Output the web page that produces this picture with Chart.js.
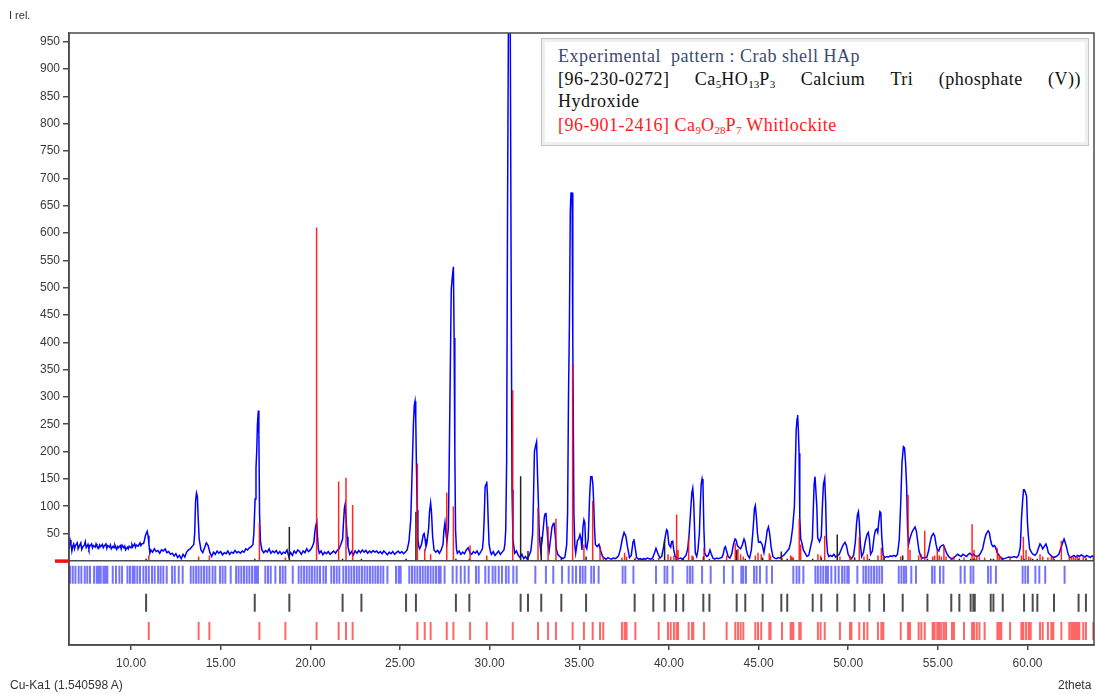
<!DOCTYPE html>
<html>
<head>
<meta charset="utf-8">
<script src="https://cdn.jsdelivr.net/npm/chart.js@4.4.1/dist/chart.umd.min.js"></script>
<style>
  body { margin: 0; background: #fff; }
  #marco { position: relative; width: 1095px; height: 694px; }
  canvas { position: absolute; left: 0; top: 0; }
  .txt { position: absolute; font-family: "Liberation Sans", Arial, sans-serif; font-size: 12px; color: #333; white-space: nowrap; }
  #leyenda {
    position: absolute; left: 541px; top: 38px; width: 538px; height: 106px;
    border: 1px solid #c4c4c4; outline: 3px solid #efefef; outline-offset: -4px;
    background: #fff; font-family: "Liberation Serif", "Times New Roman", serif; font-size: 18px;
    letter-spacing: 0.5px; padding: 0 8px 0 0; box-sizing: content-box;
  }
  #leyenda div { position: absolute; left: 16px; right: 7px; line-height: 22px; white-space: nowrap; }
  #leyenda sub { font-size: 11px; vertical-align: -3px; line-height: 0; letter-spacing: 0; }
  .just { display: flex; justify-content: space-between; }
</style>
</head>
<body>
<div id="marco">
  <canvas id="grafico" width="1095" height="694"></canvas>
  <div class="txt" style="left:9px;top:9px;font-size:11px;">I rel.</div>
  <div class="txt" style="left:10px;top:678px;">Cu-Ka1 (1.540598 A)</div>
  <div class="txt" style="left:1058px;top:678px;">2theta</div>
  <div id="leyenda">
    <div style="top:6px;color:#3b4b6e;">Experimental&nbsp; pattern : Crab shell HAp</div>
    <div class="just" style="top:29px;color:#111;">
      <span>[96-230-0272]</span><span>Ca<sub>5</sub>HO<sub>13</sub>P<sub>3</sub></span><span>Calcium</span><span>Tri</span><span>(phosphate</span><span>(V))</span>
    </div>
    <div style="top:51px;color:#111;">Hydroxide</div>
    <div style="top:75px;color:#ff1a1a;">[96-901-2416] Ca<sub>9</sub>O<sub>28</sub>P<sub>7</sub> Whitlockite</div>
  </div>
</div>
<script>
// Patrón experimental (2theta, intensidad relativa)
const patronExp = [
  [6.54,22],[6.6,38],[6.65,30],[6.7,18],[6.75,27],[6.8,31],[6.85,22],[6.9,28],[7.0,33],[7.05,22],[7.1,26],[7.2,33],[7.25,21],[7.3,25],
  [7.4,29],[7.45,35],[7.5,24],[7.6,30],[7.65,22],[7.7,27],[7.8,31],[7.85,24],[7.9,28],[8.0,25],[8.05,31],[8.1,27],[8.2,23],[8.25,29],
  [8.3,26],[8.4,30],[8.45,24],[8.5,27],[8.6,31],[8.65,23],[8.7,28],[8.8,25],[8.85,29],[8.9,22],[9.0,27],[9.05,24],[9.1,29],[9.2,21],
  [9.25,26],[9.3,24],[9.4,28],[9.45,22],[9.5,29],[9.6,24],[9.65,27],[9.7,20],[9.8,25],[9.85,22],[9.9,27],[10.0,24],[10.05,30],[10.1,26],
  [10.2,31],[10.25,25],[10.3,29],[10.4,27],[10.5,33],[10.55,28],[10.6,31],[10.7,32],[10.75,38],[10.8,46],[10.85,50],[10.9,54],[10.95,46],
  [11.0,30],[11.05,14],[11.1,20],[11.2,16],[11.3,22],[11.4,17],[11.5,19],[11.6,14],[11.7,20],[11.8,18],[11.9,22],[12.0,15],[12.1,17],
  [12.2,12],[12.3,14],[12.4,9],[12.5,13],[12.6,6],[12.7,10],[12.8,4],[12.9,12],[13.0,7],[13.1,16],[13.2,20],[13.3,22],[13.4,26],
  [13.5,30],[13.55,50],[13.6,109],[13.65,124],[13.7,118],[13.74,83],[13.8,40],[13.9,20],[14.0,15],[14.1,24],[14.2,33],[14.3,28],
  [14.4,15],[14.5,8],[14.6,16],[14.7,12],[14.8,18],[14.9,14],[15.0,17],[15.1,11],[15.2,15],[15.3,13],[15.4,18],[15.5,12],[15.6,16],
  [15.7,14],[15.8,19],[15.9,15],[16.0,17],[16.1,14],[16.2,18],[16.3,16],[16.4,22],[16.5,20],[16.6,24],[16.7,26],[16.8,30],[16.85,50],
  [16.92,113],[16.97,170],[17.01,200],[17.05,250],[17.1,275],[17.13,231],[17.17,83],[17.22,35],[17.3,20],[17.4,15],[17.5,19],[17.6,16],
  [17.7,22],[17.8,14],[17.9,18],[18.0,15],[18.1,19],[18.2,13],[18.3,17],[18.4,12],[18.5,16],[18.6,14],[18.7,20],[18.8,8],[18.9,15],
  [19.0,10],[19.1,18],[19.2,14],[19.3,20],[19.4,17],[19.5,12],[19.6,18],[19.7,15],[19.8,22],[19.9,17],[20.0,20],[20.1,25],[20.2,34],
  [20.25,52],[20.3,64],[20.36,71],[20.4,45],[20.45,22],[20.5,14],[20.6,18],[20.7,11],[20.8,16],[20.9,13],[21.0,17],[21.1,12],[21.2,15],
  [21.3,18],[21.4,14],[21.5,19],[21.6,22],[21.7,30],[21.8,40],[21.85,70],[21.9,96],[21.94,103],[22.0,75],[22.05,44],[22.1,26],[22.2,12],
  [22.3,17],[22.4,11],[22.5,18],[22.6,14],[22.7,19],[22.8,15],[22.9,20],[23.0,16],[23.1,19],[23.2,14],[23.3,18],[23.4,15],[23.5,19],
  [23.6,16],[23.7,18],[23.8,14],[23.9,17],[24.0,13],[24.1,18],[24.2,15],[24.3,11],[24.4,16],[24.5,13],[24.6,17],[24.7,12],[24.8,15],
  [24.9,18],[25.0,14],[25.1,17],[25.2,13],[25.3,16],[25.4,20],[25.5,35],[25.6,75],[25.65,130],[25.7,190],[25.75,249],[25.8,285],
  [25.84,292],[25.88,260],[25.92,170],[25.96,93],[26.0,40],[26.05,26],[26.1,22],[26.2,30],[26.3,48],[26.35,50],[26.4,40],[26.45,26],
  [26.5,32],[26.6,60],[26.65,90],[26.71,106],[26.76,88],[26.82,45],[26.9,20],[27.0,16],[27.1,19],[27.2,14],[27.3,20],[27.4,30],
  [27.45,55],[27.51,70],[27.56,52],[27.62,35],[27.7,60],[27.75,190],[27.8,330],[27.86,496],[27.92,520],[27.98,538],[28.02,408],
  [28.06,200],[28.1,57],[28.15,22],[28.2,14],[28.3,18],[28.4,12],[28.5,16],[28.6,13],[28.7,20],[28.8,24],[28.9,15],[29.0,12],
  [29.1,17],[29.2,14],[29.3,18],[29.4,11],[29.5,16],[29.6,22],[29.65,40],[29.7,80],[29.75,136],[29.8,140],[29.84,145],[29.88,120],
  [29.92,75],[29.97,30],[30.05,16],[30.1,12],[30.2,17],[30.3,10],[30.4,14],[30.5,18],[30.6,12],[30.7,16],[30.8,20],[30.85,30],
  [30.9,57],[30.95,183],[31.0,639],[31.05,990],[31.1,1100],[31.15,990],[31.2,530],[31.25,130],[31.3,40],[31.35,26],[31.4,14],
  [31.5,18],[31.6,10],[31.7,6],[31.8,12],[31.9,4],[32.0,8],[32.1,3],[32.2,10],[32.3,18],[32.4,50],[32.45,120],[32.5,200],
  [32.56,210],[32.62,218],[32.67,160],[32.72,107],[32.78,40],[32.85,18],[32.92,35],[33.0,62],[33.05,80],[33.1,86],[33.14,88],
  [33.2,60],[33.26,30],[33.32,18],[33.4,40],[33.48,62],[33.55,68],[33.59,70],[33.65,50],[33.72,22],[33.8,12],[33.9,8],[34.0,6],
  [34.1,4],[34.2,7],[34.3,30],[34.35,88],[34.4,300],[34.45,429],[34.5,640],[34.54,673],[34.6,673],[34.64,400],[34.7,88],[34.75,30],
  [34.8,14],[34.9,37],[34.97,40],[35.04,48],[35.1,40],[35.15,20],[35.2,60],[35.26,75],[35.31,70],[35.36,26],[35.42,22],[35.5,40],
  [35.58,120],[35.64,154],[35.71,154],[35.76,140],[35.8,111],[35.85,60],[35.9,30],[36.0,26],[36.1,30],[36.2,18],[36.3,8],[36.4,5],
  [36.5,3],[36.6,6],[36.7,4],[36.8,3],[36.9,5],[37.0,4],[37.1,6],[37.2,10],[37.3,22],[37.4,40],[37.5,52],[37.55,52],[37.6,45],
  [37.7,24],[37.8,6],[37.9,10],[38.0,35],[38.05,40],[38.1,28],[38.2,6],[38.3,3],[38.4,4],[38.5,2],[38.6,4],[38.7,3],[38.8,5],
  [38.9,4],[39.0,3],[39.1,6],[39.2,15],[39.28,23],[39.4,12],[39.5,5],[39.6,8],[39.7,25],[39.8,45],[39.87,57],[39.92,55],[40.0,30],
  [40.1,25],[40.15,35],[40.21,36],[40.27,20],[40.35,8],[40.45,6],[40.55,4],[40.65,5],[40.75,3],[40.85,6],[40.95,10],[41.05,22],
  [41.12,45],[41.2,85],[41.28,125],[41.33,133],[41.38,110],[41.42,70],[41.47,15],[41.55,8],[41.62,20],[41.7,50],[41.75,100],
  [41.8,140],[41.85,150],[41.9,140],[41.95,60],[42.0,14],[42.1,8],[42.2,10],[42.29,20],[42.35,14],[42.45,5],[42.55,3],[42.65,5],
  [42.75,4],[42.85,5],[42.95,6],[43.03,12],[43.1,24],[43.15,26],[43.22,18],[43.3,8],[43.4,5],[43.5,12],[43.6,30],[43.69,40],
  [43.75,38],[43.82,28],[43.9,25],[44.0,22],[44.1,30],[44.19,40],[44.25,35],[44.32,20],[44.4,10],[44.5,5],[44.6,20],[44.7,60],
  [44.77,95],[44.82,101],[44.88,80],[44.94,50],[45.0,34],[45.1,35],[45.2,30],[45.3,15],[45.4,35],[45.48,55],[45.55,62],[45.62,50],
  [45.7,25],[45.8,8],[45.9,5],[46.0,4],[46.1,6],[46.2,5],[46.3,8],[46.4,10],[46.5,14],[46.6,18],[46.7,22],[46.8,35],[46.9,60],
  [47.0,100],[47.05,170],[47.1,240],[47.15,260],[47.18,267],[47.22,240],[47.26,197],[47.3,80],[47.35,40],[47.4,35],[47.5,20],
  [47.6,14],[47.7,8],[47.8,10],[47.9,25],[48.0,40],[48.05,90],[48.1,140],[48.15,154],[48.2,154],[48.25,100],[48.3,42],[48.4,35],
  [48.5,45],[48.56,100],[48.62,140],[48.69,151],[48.74,110],[48.79,40],[48.85,14],[48.92,8],[49.0,10],[49.1,8],[49.2,12],[49.3,7],
  [49.4,9],[49.5,12],[49.6,20],[49.7,28],[49.82,34],[49.9,28],[50.0,12],[50.1,6],[50.2,5],[50.3,10],[50.4,35],[50.47,70],[50.52,85],
  [50.57,90],[50.62,70],[50.68,30],[50.75,8],[50.85,15],[50.95,35],[51.05,48],[51.12,52],[51.18,40],[51.25,12],[51.35,18],[51.45,45],
  [51.52,56],[51.59,58],[51.65,52],[51.7,70],[51.77,90],[51.82,88],[51.87,45],[51.95,10],[52.05,6],[52.15,8],[52.25,7],[52.35,9],
  [52.45,8],[52.55,10],[52.65,8],[52.75,12],[52.85,40],[52.93,106],[53.0,180],[53.08,209],[53.14,207],[53.2,180],[53.26,136],
  [53.31,60],[53.37,30],[53.45,42],[53.55,52],[53.65,58],[53.73,62],[53.8,55],[53.88,35],[53.95,18],[54.05,8],[54.15,5],[54.25,6],
  [54.38,6],[54.48,18],[54.56,32],[54.65,45],[54.75,50],[54.82,46],[54.9,30],[54.97,20],[55.05,18],[55.12,25],[55.21,28],[55.3,29],
  [55.38,24],[55.49,14],[55.6,8],[55.7,5],[55.8,4],[55.9,6],[56.0,9],[56.1,12],[56.2,10],[56.3,8],[56.4,12],[56.5,10],[56.6,8],
  [56.7,12],[56.79,14],[56.9,10],[57.0,12],[57.1,9],[57.2,8],[57.3,10],[57.4,15],[57.5,22],[57.6,38],[57.68,48],[57.75,52],[57.81,55],
  [57.87,52],[57.93,40],[58.0,30],[58.08,26],[58.15,28],[58.22,25],[58.3,16],[58.37,12],[58.5,6],[58.65,4],[58.8,5],[58.95,7],
  [59.1,6],[59.25,8],[59.4,6],[59.5,10],[59.6,25],[59.67,80],[59.73,110],[59.78,130],[59.82,130],[59.88,126],[59.95,118],[60.0,70],
  [60.05,45],[60.12,22],[60.23,15],[60.32,12],[60.42,10],[60.52,14],[60.6,22],[60.7,31],[60.77,28],[60.85,22],[60.93,26],[61.03,31],
  [61.1,24],[61.16,15],[61.3,10],[61.44,6],[61.6,8],[61.75,12],[61.85,22],[61.95,32],[62.04,40],[62.1,34],[62.18,25],[62.27,12],
  [62.37,6],[62.5,8],[62.6,10],[62.7,7],[62.8,10],[62.9,8],[63.0,11],[63.1,9],[63.2,7],[63.3,10],[63.4,8],[63.5,6],[63.6,9],[63.71,7]
];

// Picos identificados del patrón experimental (fila azul)
const picosExp = [
  6.60,6.75,6.90,7.08,7.23,7.42,7.56,7.71,7.94,8.09,8.20,8.31,8.46,8.57,8.68,8.98,9.16,9.35,9.50,9.80,9.94,10.09,10.20,10.35,
  10.50,10.69,10.84,10.99,11.17,11.32,11.51,11.65,11.80,11.99,12.29,12.44,12.66,12.88,13.33,13.48,13.63,13.77,13.92,14.07,14.22,
  14.37,14.55,14.70,14.96,15.11,15.26,15.56,15.86,16.00,16.15,16.30,16.45,16.60,16.75,16.90,17.01,17.08,17.49,17.64,17.79,18.05,
  18.31,18.46,18.61,19.02,19.35,19.50,19.65,19.80,19.95,20.09,20.24,20.39,20.54,20.73,20.87,21.17,21.32,21.47,21.62,21.84,21.99,
  22.14,22.29,22.44,22.59,22.73,22.88,23.03,23.18,23.33,23.48,23.63,23.77,23.92,24.07,24.30,24.78,24.93,25.04,25.52,25.67,25.82,
  25.97,26.12,26.27,26.42,26.56,26.71,26.86,27.01,27.16,27.27,27.49,27.94,28.16,28.39,28.61,28.83,29.24,29.39,29.76,29.95,30.17,
  30.32,30.51,30.69,30.91,31.06,31.32,31.51,32.55,33.14,33.55,34.04,34.41,34.63,34.82,35.04,35.19,35.34,35.67,35.82,36.08,37.42,
  37.57,38.02,39.28,39.76,39.91,40.21,41.03,41.18,41.32,41.85,42.33,43.07,43.56,44.04,44.15,44.30,44.75,44.89,45.08,45.45,45.75,
  46.94,47.12,47.27,47.50,48.17,48.31,48.46,48.61,48.76,48.87,49.06,49.28,49.47,49.66,49.80,49.95,50.03,50.51,50.85,50.99,51.14,
  51.29,51.44,51.59,51.74,51.89,52.82,52.97,53.11,53.23,53.52,53.78,54.68,54.82,55.12,55.31,56.27,56.50,56.83,56.98,57.80,57.95,
  58.24,59.73,59.88,60.03,60.44,60.66,60.99,62.07
];

// [96-230-0272] Hidroxiapatita (2theta, intensidad)
const lineasHAp = [
  [10.84,4],[16.90,4],[18.83,62],[21.80,4],[22.85,4],[25.34,4],[25.89,90],[28.12,4],[28.87,4],[31.73,155],[32.14,18],[32.88,44],
  [34.00,6],[35.38,8],[38.09,4],[39.13,4],[39.76,38],[40.40,6],[40.80,4],[41.92,8],[42.26,4],[43.78,20],[44.26,4],[45.23,6],
  [46.27,17],[46.60,4],[48.02,4],[48.50,6],[49.39,48],[50.36,6],[51.18,4],[52.00,5],[53.04,10],[54.42,4],[55.75,4],[56.20,4],
  [56.83,4],[56.98,4],[57.06,4],[57.95,4],[58.10,4],[58.62,4],[59.81,4],[60.29,4],[60.55,4],[61.48,4],[62.85,4],[63.26,4]
];

// [96-901-2416] Whitlockita (2theta, intensidad)
const lineasWhit = [
  [10.99,10],[13.77,8],[14.37,10],[17.16,70],[18.61,6],[20.35,610],[21.58,145],[21.99,152],[22.36,102],[25.97,178],[26.38,22],
  [26.71,12],[27.61,125],[27.98,100],[28.91,28],[29.84,10],[31.29,312],[32.70,97],[33.26,63],[33.70,77],[34.63,360],[35.26,30],
  [35.75,110],[36.16,27],[36.34,8],[37.38,6],[37.53,15],[37.64,8],[38.13,6],[39.43,5],[39.95,12],[40.10,8],[40.28,10],[40.43,85],
  [40.51,20],[41.10,43],[41.29,10],[41.36,8],[41.96,24],[43.22,10],[43.70,32],[43.85,22],[44.00,12],[44.15,8],[44.82,10],[44.97,15],
  [45.15,12],[45.60,14],[45.67,10],[46.31,6],[46.79,10],[46.86,8],[46.94,6],[47.27,77],[47.35,30],[48.31,12],[48.46,10],[48.69,46],
  [49.54,8],[50.10,10],[50.18,6],[50.62,44],[50.88,8],[51.07,12],[51.66,10],[51.85,24],[51.96,10],[52.93,8],[53.34,121],[53.45,20],
  [53.93,10],[54.08,12],[54.27,55],[54.71,8],[54.82,10],[54.97,20],[55.08,10],[55.20,8],[55.34,29],[55.46,8],[55.79,6],[55.90,8],
  [56.46,6],[56.91,67],[57.02,20],[57.17,10],[57.32,8],[57.61,6],[58.32,23],[58.43,10],[58.54,8],[59.03,6],[59.66,10],[59.77,44],
  [59.92,20],[60.07,8],[60.18,6],[60.70,12],[60.85,8],[61.14,6],[61.33,8],[61.44,6],[61.89,37],[62.33,8],[62.45,6],[62.56,10],
  [62.67,6],[62.78,8],[62.89,6],[63.11,8],[63.26,6],[63.67,10]
];

const ticksX = [10, 15, 20, 25, 30, 35, 40, 45, 50, 55, 60];
const ticksY = [50,100,150,200,250,300,350,400,450,500,550,600,650,700,750,800,850,900,950];

// Franjas (en unidades de intensidad) de las filas de marcas bajo el cero
const filaExp = [-9, -42];
const filaHAp = [-60, -93];
const filaWhit = [-112, -145];

// Convierte posiciones en segmentos verticales separados por huecos
function segmentos(lista, base) {
  const puntos = [];
  lista.forEach(item => {
    const t = Array.isArray(item) ? item[0] : item;
    const y0 = Array.isArray(base) ? base[0] : base;
    const y1 = Array.isArray(base) ? base[1] : item[1];
    puntos.push({ x: t, y: y0 }, { x: t, y: y1 }, { x: t, y: null });
  });
  return puntos;
}

function serie(datos, color, ancho) {
  return {
    data: datos, borderColor: color, borderWidth: ancho, pointRadius: 0,
    showLine: true, spanGaps: false, tension: 0, fill: false
  };
}

// Marco, línea de cero y marca roja en el eje
const marcoPlugin = {
  id: "marco",
  afterDatasetsDraw(c) {
    const { ctx, chartArea: a, scales } = c;
    const y0 = scales.y.getPixelForValue(0);
    ctx.save();
    ctx.strokeStyle = "#4a4a4a";
    ctx.lineWidth = 1.5;
    ctx.beginPath();
    ctx.moveTo(a.left, y0); ctx.lineTo(a.right, y0);
    ctx.stroke();
    ctx.strokeRect(a.left, a.top, a.right - a.left, a.bottom - a.top);
    ctx.fillStyle = "#ee1111";
    ctx.fillRect(a.left - 14, y0 - 1.5, 14, 3.5);
    ctx.restore();
  }
};

Chart.defaults.font.family = "'Liberation Sans', Arial, sans-serif";
Chart.defaults.font.size = 12;
Chart.defaults.color = "#3a3a3a";

const ctx = document.getElementById("grafico").getContext("2d");
new Chart(ctx, {
  type: "scatter",
  data: {
    datasets: [
      serie(segmentos(lineasWhit, 0), "rgba(255,0,0,0.85)", 1.5),
      serie(segmentos(lineasHAp, 0), "#222", 1.5),
      serie(segmentos(picosExp, filaExp), "rgba(0,0,255,0.55)", 2),
      serie(segmentos(lineasHAp, filaHAp), "rgba(0,0,0,0.7)", 2),
      serie(segmentos(lineasWhit, filaWhit), "rgba(255,0,0,0.6)", 2),
      serie(patronExp.map(p => ({ x: p[0], y: p[1] })), "#0000ff", 1.5)
    ]
  },
  options: {
    responsive: false,
    animation: false,
    layout: { padding: { top: 33, right: 1, left: 0, bottom: 0 } },
    plugins: { legend: { display: false }, tooltip: { enabled: false } },
    scales: {
      x: {
        type: "linear", min: 6.54, max: 63.71,
        afterBuildTicks: s => { s.ticks = ticksX.map(v => ({ value: v })); },
        afterFit: s => { s.height = 49; },
        ticks: { callback: v => v.toFixed(2), padding: 6, maxRotation: 0 },
        grid: { drawOnChartArea: false, tickLength: 5, color: "#4a4a4a", lineWidth: 1.5 },
        border: { display: true, color: "#4a4a4a", width: 1.5 }
      },
      y: {
        type: "linear", min: -154, max: 966,
        afterBuildTicks: s => { s.ticks = ticksY.map(v => ({ value: v })); },
        afterFit: s => { s.width = 69; },
        ticks: { padding: 3 },
        grid: { drawOnChartArea: false, tickLength: 6, color: "#4a4a4a", lineWidth: 1.5 },
        border: { display: true, color: "#4a4a4a", width: 1.5 }
      }
    }
  },
  plugins: [marcoPlugin]
});
</script>
</body>
</html>
